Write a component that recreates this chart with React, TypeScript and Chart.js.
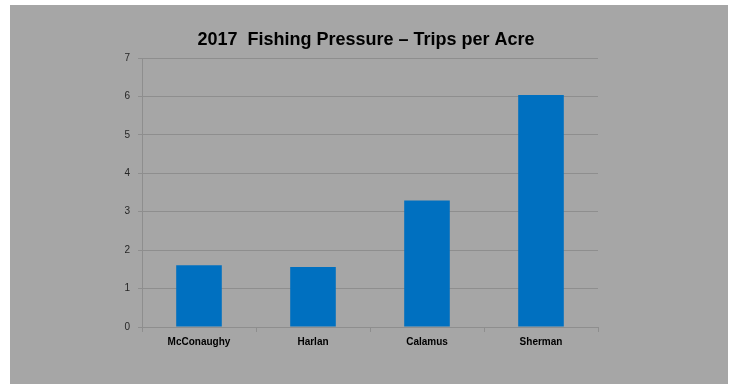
import React, { useEffect, useRef } from "react";
import { Chart, registerables } from "chart.js";

Chart.register(...registerables);

const categories = ["McConaughy", "Harlan", "Calamus", "Sherman"];
const tripsPerAcre = [1.61, 1.56, 3.29, 6.04];
const yTicks = [0, 1, 2, 3, 4, 5, 6, 7];
const titleText = "2017  Fishing Pressure \u2013 Trips per Acre";

const bgPlugin = {
  id: "bgPanel",
  beforeDraw(chart: any) {
    const ctx = chart.ctx;
    ctx.save();
    ctx.fillStyle = "#ffffff";
    ctx.fillRect(0, 0, chart.width, chart.height);
    ctx.fillStyle = "#a6a6a6";
    ctx.fillRect(10, 5, 718, 379);
    ctx.restore();
  },
  afterDraw(chart: any) {
    const ctx = chart.ctx;
    ctx.save();
    ctx.fillStyle = "#000000";
    ctx.font = "bold 18px 'Liberation Sans'";
    ctx.textAlign = "center";
    ctx.textBaseline = "middle";
    ctx.fillText(titleText, 366, 40);
    ctx.restore();
  },
};

export default function App() {
  const ref = useRef<HTMLCanvasElement | null>(null);
  useEffect(() => {
    if (!ref.current) return;
    const gridColor = "#8e8e8e";
    const chart = new Chart(ref.current, {
      type: "bar",
      data: {
        labels: categories,
        datasets: [
          {
            data: tripsPerAcre,
            backgroundColor: "#0070c0",
            borderWidth: 0,
            categoryPercentage: 1,
            barPercentage: 0.4,
          },
        ],
      },
      options: {
        responsive: false,
        animation: false,
        layout: { padding: { top: 58, left: 0, right: 136, bottom: 3 } },
        plugins: {
          legend: { display: false },
          tooltip: { enabled: false },
          title: { display: false },
        },
        scales: {
          x: {
            grid: {
              display: true,
              drawOnChartArea: false,
              color: gridColor,
              tickLength: 5,
              offset: true,
            },
            border: { display: true, color: gridColor },
            ticks: {
              color: "#000000",
              padding: 4,
              font: { family: "Liberation Sans", size: 10, weight: "bold" },
            },
            afterFit(scale: any) {
              scale.height = 57;
            },
          },
          y: {
            min: 0,
            max: 7,
            afterBuildTicks(scale: any) {
              scale.ticks = yTicks.map((v) => ({ value: v }));
            },
            grid: { color: gridColor, tickLength: 4 },
            border: { display: true, color: gridColor },
            ticks: {
              color: "#262626",
              padding: 8,
              font: { family: "Liberation Sans", size: 10 },
            },
            afterFit(scale: any) {
              scale.width = 142;
            },
          },
        },
      },
      plugins: [bgPlugin],
    });
    return () => chart.destroy();
  }, []);
  return (
    <div style={{ position: "absolute", left: 0, top: 0, width: 734, height: 387 }}>
      <canvas ref={ref} width={734} height={387} />
    </div>
  );
}
